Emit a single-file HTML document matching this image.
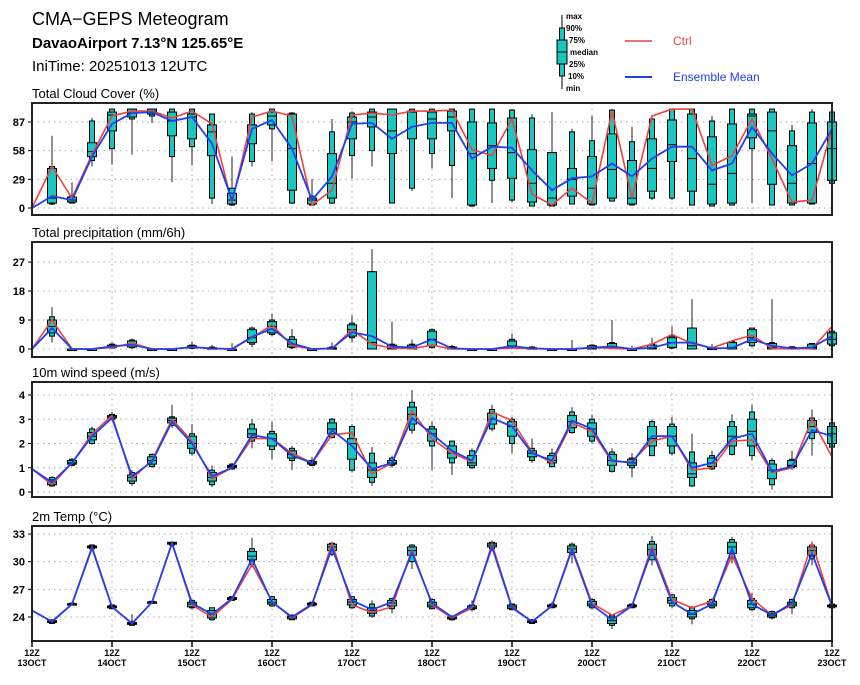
<!DOCTYPE html>
<html><head><meta charset="utf-8"><style>
body{margin:0;background:#fff;font-family:"Liberation Sans",sans-serif}
svg text{font-family:"Liberation Sans",sans-serif}
</style></head><body>
<svg id="chart" width="860" height="680" xmlns="http://www.w3.org/2000/svg">
<text x="32" y="25" font-size="18">CMA−GEPS Meteogram</text>
<text x="32" y="48" font-size="15" font-weight="bold">DavaoAirport 7.13°N 125.65°E</text>
<text x="32" y="71" font-size="15">IniTime: 20251013 12UTC</text>
<g>
<line x1="562" y1="15" x2="562" y2="89" stroke="#000" stroke-width="1"/>
<rect x="559.5" y="28" width="5" height="48" fill="#18c8c0" stroke="#000" stroke-width="1"/>
<rect x="557" y="40" width="10" height="24" fill="#18c8c0" stroke="#000" stroke-width="1"/>
<line x1="557" y1="52" x2="567" y2="52" stroke="#000"/>
<g font-size="8" font-weight="bold"><text x="566" y="19">max</text><text x="566" y="31">90%</text><text x="569" y="43">75%</text><text x="570" y="55">median</text><text x="569" y="67">25%</text><text x="568" y="79">10%</text><text x="566" y="91">min</text></g>
</g>
<g><line x1="625" y1="41" x2="652" y2="41" stroke="#f04040" stroke-width="1.5"/><text x="673" y="45" font-size="12" fill="#f04040">Ctrl</text></g>
<g><line x1="625" y1="77" x2="652" y2="77" stroke="#2040f0" stroke-width="2"/><text x="673" y="81" font-size="12" fill="#2040f0">Ensemble Mean</text></g>
</svg>
<script>
const cloudCtrl=[0,42,10,54,93,98,98,91,98,85,5,92,98,93,3,18,94,96,94,98,98,99,59,53,90,14,3,20,5,98,10,93,100,100,43,53,90,50,6,8,80];
const cloudMean=[0,12,8,52,85,96,97,88,92,65,8,80,89,60,8,32,85,86,70,82,86,86,50,62,61,38,18,30,32,45,32,50,62,62,38,45,82,55,33,45,80];
const cloudMin=[null,3,5,42,44,54,86,26,43,4,2,42,47,4,2,4,30,42,5,17,40,10,1,5,6,2,2,4,3,7,3,8,8,3,2,3,5,3,3,4,20];
const cloudP10=[null,4,5,48,60,90,93,52,62,10,3,47,80,5,3,5,53,58,5,20,55,43,2,28,8,2,2,4,3,7,3,10,10,3,2,3,60,3,3,4,25];
const cloudP25=[null,5,6,52,78,92,95,73,70,53,4,65,84,18,4,10,70,82,55,70,70,78,3,40,30,6,3,12,4,10,4,17,47,17,4,5,71,24,5,5,28];
const cloudMed=[null,10,8,57,94,96,98,88,92,77,8,84,93,60,8,25,87,92,78,97,90,92,55,63,56,25,10,29,20,39,10,40,64,50,24,35,93,78,25,45,60];
const cloudP75=[null,40,11,66,97,100,100,97,95,84,15,84,97,95,10,55,92,97,100,98,97,98,87,86,91,59,56,40,52,75,48,70,89,95,72,85,95,97,63,86,87];
const cloudP90=[null,42,12,88,100,100,100,100,100,95,20,95,100,96,12,77,96,100,100,100,100,100,100,100,99,91,56,77,68,99,67,90,100,100,88,100,100,100,78,97,97];
const cloudMax=[null,73,26,91,100,100,100,100,100,95,52,97,100,97,29,90,98,100,100,100,100,100,100,100,100,95,97,80,93,100,82,94,100,100,93,100,100,100,84,100,100];

const prcpCtrl=[0,9,0,0,0.5,1.8,0,0,0.6,0.1,0,3.5,7.5,1,0,0.1,6,1.5,0.3,0.1,1.2,0,0,0,0.3,0.1,0,0,0.5,0.2,0,1.5,4.5,1.7,0.3,2.5,4.3,0.2,0,0.2,7];
const prcpMean=[0,6.5,0,0,0.8,1.3,0,0,0.6,0.2,0,3.8,6.3,1.7,0,0.2,5.2,4,0.7,0.5,3,0.2,0,0,0.9,0.2,0,0,0.4,0.8,0,0.4,2,2,0.2,0.3,3,1,0.2,0.5,4];
const prcpMin=[null,2,0,0,0,0,0,0,0,0,0,0.5,4,0,0,0,2,0,0,0,0,0,0,0,0,0,0,0,0,0,0,0,0,0,0,0,0.5,0,0,0,0.5];
const prcpP10=[null,4,0,0,0.3,0.4,0,0,0.2,0,0,1.5,4.5,0.4,0,0,3.5,0,0,0,0.5,0,0,0,0.4,0,0,0,0,0.2,0,0,0.3,0,0,0,1,0,0,0,1];
const prcpP25=[null,5,0,0,0.5,0.6,0,0,0.3,0,0,2,5,0.6,0,0,4,0,0,0,1,0,0,0,0.6,0,0,0,0,0.3,0,0,0.5,0,0,0,2,0,0,0,1.5];
const prcpMed=[null,7,0,0,0.8,1.3,0,0,0.6,0.1,0,3.5,7,1.5,0,0.1,6,2,0.3,0.2,3,0.1,0,0,1,0.1,0,0,0.3,0.5,0,0.3,2,1,0.1,0.5,3.5,0.5,0.1,0.5,3];
const prcpP75=[null,9,0,0,1.2,2.5,0,0,1,0.4,0,6,8.5,3,0,0.4,7.5,24,1.2,1.2,5.5,0.6,0,0,2.5,0.4,0,0,1,1.7,0,1.2,3.5,6.5,0.3,2,6,1.7,0.5,1.5,5];
const prcpP90=[null,10,0,0,1.5,2.8,0,0,1.2,0.6,0,6.5,9,3.8,0,0.6,8,24,1.5,1.5,6,0.8,0,0,3,0.6,0,0,1.2,2,0,1.5,4,6.5,0.5,2.3,6.5,2,0.7,1.7,5.5];
const prcpMax=[null,13,0,0,2,3.3,0,0,2.3,1.3,1.8,7,11,6.2,0,2,10.5,31,8.5,3,6.5,1.3,0,0,4.8,1,0,2.8,1.5,9,1,3.5,7,15.5,1.5,2.3,6.5,15.5,0.7,1.7,5.5];

const windCtrl=[0.95,0.3,1.2,2.4,3.15,0.55,1.3,3.0,2.1,0.55,1.0,2.2,2.2,1.6,1.2,2.35,2.45,0.75,1.2,3.35,2.2,1.6,1.25,3.3,2.95,1.65,1.2,2.85,2.5,1.25,1.25,2.1,2.3,0.9,1.0,2.1,2.15,0.8,1.0,3.0,1.45];
const windMean=[0.95,0.4,1.2,2.3,3.05,0.65,1.25,2.9,2.0,0.65,1.0,2.35,2.2,1.5,1.2,2.55,1.9,0.95,1.2,3.05,2.4,1.7,1.3,3.05,2.7,1.6,1.3,2.95,2.6,1.3,1.2,2.3,2.3,1.0,1.2,2.2,2.4,0.85,1.05,2.55,2.3];
const windMin=[null,0.2,1.05,1.95,2.95,0.25,1.0,2.65,1.5,0.2,0.9,1.8,1.35,0.9,1.05,2.2,0.8,0.25,1.0,2.4,0.9,0.7,0.95,2.5,1.6,1.2,1.0,2.4,2.0,0.8,0.6,1.5,1.5,0.2,0.9,1.5,1.3,0.1,0.9,1.5,1.8];
const windP10=[null,0.25,1.1,2.0,3.0,0.35,1.05,2.75,1.6,0.3,0.95,2.1,1.75,1.3,1.1,2.25,0.9,0.4,1.1,2.55,1.9,1.2,1.0,2.6,2.0,1.3,1.05,2.45,2.1,0.85,1.0,1.5,1.6,0.25,0.95,1.55,1.5,0.3,1.0,2.2,1.85];
const windP25=[null,0.3,1.15,2.15,3.05,0.45,1.15,2.85,1.8,0.45,1.0,2.25,1.9,1.4,1.15,2.4,1.35,0.6,1.15,2.8,2.1,1.4,1.1,2.8,2.3,1.45,1.2,2.65,2.3,1.1,1.1,1.9,1.9,0.6,1.05,1.9,1.9,0.55,1.05,2.45,2.0];
const windMed=[null,0.4,1.2,2.3,3.1,0.6,1.3,2.95,2.0,0.6,1.05,2.4,2.2,1.55,1.2,2.6,2.0,0.9,1.2,3.2,2.4,1.6,1.2,3.0,2.7,1.6,1.3,2.9,2.6,1.3,1.2,2.2,2.3,0.75,1.2,2.3,2.5,0.9,1.1,2.7,2.4];
const windP75=[null,0.5,1.3,2.45,3.15,0.7,1.45,3.05,2.3,0.8,1.1,2.6,2.4,1.7,1.25,2.85,2.2,1.2,1.3,3.5,2.6,1.9,1.5,3.25,2.9,1.7,1.5,3.15,2.85,1.55,1.35,2.7,2.7,1.2,1.4,2.7,3.0,1.15,1.3,2.95,2.7];
const windP90=[null,0.6,1.35,2.6,3.2,0.8,1.55,3.1,2.4,0.9,1.15,2.8,2.5,1.8,1.3,3.0,2.7,1.6,1.4,3.7,2.7,2.1,1.7,3.4,3.0,1.8,1.6,3.3,3.0,1.65,1.4,2.9,2.8,1.65,1.5,2.9,3.3,1.3,1.35,3.05,2.85];
const windMax=[null,0.65,1.4,2.7,3.3,0.9,1.6,3.6,2.8,1.1,1.2,3.0,2.9,1.9,1.45,3.05,2.8,1.85,1.5,4.2,2.9,2.1,1.8,3.6,3.1,2.2,1.8,3.5,3.2,1.8,1.6,3.0,3.1,2.4,1.7,3.2,3.6,1.4,1.7,3.4,2.85];

const tempCtrl=[24.7,23.5,25.4,31.6,25.1,23.3,25.6,32.0,25.3,24.0,25.9,29.7,25.7,23.9,25.3,32.0,25.3,24.5,25.1,31.3,25.3,23.9,25.0,31.9,25.1,23.5,25.2,31.5,25.5,24.2,25.2,31.7,25.9,25.0,25.7,30.7,26.0,24.2,25.3,32.0,25.2];
const tempMean=[24.7,23.5,25.4,31.5,25.1,23.3,25.6,32.0,25.5,24.3,26.0,30.3,25.6,24.0,25.4,31.5,25.8,24.8,25.6,31.0,25.5,24.0,25.2,31.6,25.0,23.5,25.2,31.3,25.3,23.7,25.2,31.3,25.6,24.3,25.4,31.4,25.4,24.2,25.5,30.9,25.2];
const tempMin=[null,23.3,25.3,31.3,24.9,23.1,25.5,31.8,24.8,23.6,25.8,29.4,25.1,23.7,25.2,30.6,24.9,23.9,24.4,29.2,24.9,23.6,24.6,31.2,24.7,23.3,25.0,29.8,24.8,22.7,25.0,29.6,25.0,23.2,24.9,29.8,24.6,23.7,24.3,29.6,25.0];
const tempP10=[null,23.3,25.3,31.4,24.9,23.1,25.5,31.8,25.0,23.7,25.8,29.7,25.2,23.7,25.2,30.8,25.0,24.1,24.9,30.0,24.9,23.7,24.8,31.4,24.8,23.3,25.0,30.8,25.0,23.1,25.0,30.2,25.2,23.8,25.0,30.4,24.8,23.9,25.0,30.3,25.0];
const tempP25=[null,23.4,25.35,31.5,25.0,23.2,25.55,31.9,25.1,23.9,25.9,30.2,25.4,23.8,25.3,31.2,25.3,24.4,25.2,30.7,25.1,23.8,24.9,31.6,24.9,23.4,25.1,31.0,25.2,23.3,25.1,30.7,25.5,24.0,25.2,30.9,25.0,24.0,25.2,30.7,25.1];
const tempMed=[null,23.5,25.4,31.6,25.1,23.3,25.6,32.0,25.4,24.3,26.0,30.6,25.6,24.0,25.4,31.6,25.6,24.7,25.5,31.2,25.3,23.9,25.0,31.8,25.1,23.5,25.2,31.4,25.4,23.6,25.2,31.3,25.8,24.3,25.4,31.6,25.4,24.2,25.4,31.2,25.2];
const tempP75=[null,23.6,25.45,31.7,25.2,23.4,25.65,32.1,25.6,24.7,26.1,31.1,25.9,24.1,25.5,31.9,25.9,25.0,25.8,31.6,25.6,24.0,25.2,32.0,25.3,23.6,25.3,31.7,25.7,24.0,25.3,31.9,26.1,24.7,25.7,32.1,25.8,24.4,25.6,31.6,25.3];
const tempP90=[null,23.7,25.5,31.8,25.3,23.5,25.7,32.1,25.8,25.0,26.2,31.4,26.2,24.2,25.6,32.0,26.2,25.4,26.0,31.8,25.9,24.1,25.3,32.1,25.4,23.7,25.4,31.9,25.9,24.2,25.4,32.2,26.4,25.0,25.9,32.4,26.0,24.6,25.9,31.8,25.4];
const tempMax=[null,23.7,25.5,31.9,25.3,24.3,25.7,32.1,25.9,25.0,26.2,32.6,26.3,24.3,25.6,32.1,26.3,25.8,26.1,31.9,26.0,24.2,25.8,32.3,25.5,23.8,25.6,32.1,26.0,24.3,25.5,32.8,26.5,25.2,26.0,32.7,26.6,24.7,26.0,32.0,25.5];

const dayLabels=["13OCT","14OCT","15OCT","16OCT","17OCT","18OCT","19OCT","20OCT","21OCT","22OCT","23OCT"];
const cloudTicks=[0,29,58,87];
const prcpTicks=[0,9,18,27];
const windTicks=[0,1,2,3,4];
const tempTicks=[24,27,30,33];

const NS="http://www.w3.org/2000/svg";
const svg=document.getElementById('chart');
const X0=32,X1=832,NSTEP=40;
function xs(t){return X0+(X1-X0)*t/NSTEP;}
function mk(tag,attrs,parent){const e=document.createElementNS(NS,tag);for(const k in attrs)e.setAttribute(k,attrs[k]);(parent||svg).appendChild(e);return e;}

function panel(cfg){
  const g=mk('g',{});
  
  
  const ys=v=>cfg.y0+(v-cfg.v0)*cfg.k;
  const tt=mk('text',{x:32,y:cfg.top-5,'font-size':13},g);
  tt.textContent=cfg.title;
  
  
  // grid
  cfg.ticks.forEach(v=>{
    const l=mk('line',{x1:X0,x2:X1,y1:ys(v),y2:ys(v),stroke:'#aaa','stroke-width':1,'stroke-dasharray':'1.5,4'},g);
    
    
    const tl=mk('text',{x:25,y:ys(v)+4,'font-size':11,'font-weight':'bold','text-anchor':'end'},g);
    tl.textContent=String(v);
    
    
    mk('line',{x1:X0-4,x2:X0,y1:ys(v),y2:ys(v),stroke:'#000'},g);
  });
  for(let d=1;d<dayLabels.length-1;d++){
    const l=mk('line',{x1:xs(d*4),x2:xs(d*4),y1:cfg.top,y2:cfg.bot,stroke:'#aaa','stroke-width':1,'stroke-dasharray':'1.5,4'},g);
    
    
  }
  // boxes
  for(let t=0;t<=NSTEP;t++){
    if(cfg.min[t]==null)continue;
    const bx=mk('g',{},g);
    
    
    const x=xs(t);
    mk('line',{x1:x,x2:x,y1:ys(cfg.min[t]),y2:ys(cfg.max[t]),stroke:'#222','stroke-width':1},bx);
    const a=ys(cfg.p90[t]),b=ys(cfg.p10[t]);
    mk('rect',{x:x-2.5,y:Math.min(a,b),width:5,height:Math.max(Math.abs(b-a),1.5),fill:'#18c8c0',stroke:'#000','stroke-width':1},bx);
    const c=ys(cfg.p75[t]),d=ys(cfg.p25[t]);
    mk('rect',{x:x-4.5,y:Math.min(c,d),width:9,height:Math.max(Math.abs(d-c),1.5),fill:'#18c8c0',stroke:'#000','stroke-width':1},bx);
    mk('line',{x1:x-4.5,x2:x+4.5,y1:ys(cfg.med[t]),y2:ys(cfg.med[t]),stroke:'#000','stroke-width':1},bx);
  }
  const pts=arr=>arr.map((v,t)=>xs(t).toFixed(1)+','+ys(v).toFixed(1)).join(' ');
  const rl=mk('polyline',{points:pts(cfg.ctrl),fill:'none',stroke:'#f04040','stroke-width':1.6},g);
  
  
  const bl=mk('polyline',{points:pts(cfg.mean),fill:'none',stroke:'#2040f0','stroke-width':1.8},g);
  
  
  const fr=mk('rect',{x:X0,y:cfg.top,width:X1-X0,height:cfg.bot-cfg.top,fill:'none',stroke:'#222','stroke-width':2},g);
  
  
  return g;
}
panel({name:'cloud',title:'Total Cloud Cover (%)',top:103,bot:215,y0:208,v0:0,k:-0.989,ticks:cloudTicks,ctrl:cloudCtrl,mean:cloudMean,min:cloudMin,p10:cloudP10,p25:cloudP25,med:cloudMed,p75:cloudP75,p90:cloudP90,max:cloudMax});
panel({name:'precip',title:'Total precipitation (mm/6h)',top:242,bot:357,y0:349,v0:0,k:-3.22,ticks:prcpTicks,ctrl:prcpCtrl,mean:prcpMean,min:prcpMin,p10:prcpP10,p25:prcpP25,med:prcpMed,p75:prcpP75,p90:prcpP90,max:prcpMax});
panel({name:'wind',title:'10m wind speed (m/s)',top:382,bot:497,y0:492,v0:0,k:-24.25,ticks:windTicks,ctrl:windCtrl,mean:windMean,min:windMin,p10:windP10,p25:windP25,med:windMed,p75:windP75,p90:windP90,max:windMax});
panel({name:'temp',title:'2m Temp (°C)',top:526,bot:641,y0:617,v0:24,k:-9.22,ticks:tempTicks,ctrl:tempCtrl,mean:tempMean,min:tempMin,p10:tempP10,p25:tempP25,med:tempMed,p75:tempP75,p90:tempP90,max:tempMax});
// x axis
dayLabels.forEach((lab,d)=>{
  const x=xs(d*4);
  mk('line',{x1:x,x2:x,y1:641,y2:647,stroke:'#000','stroke-width':1.5});
  const t1=mk('text',{x:x,y:656,'font-size':9,'font-weight':'bold','text-anchor':'middle'});
  t1.textContent='12Z';
  
  
  const t2=mk('text',{x:x,y:666,'font-size':9,'font-weight':'bold','text-anchor':'middle'});
  t2.textContent=lab;
  
  
});
</script>
</body></html>
